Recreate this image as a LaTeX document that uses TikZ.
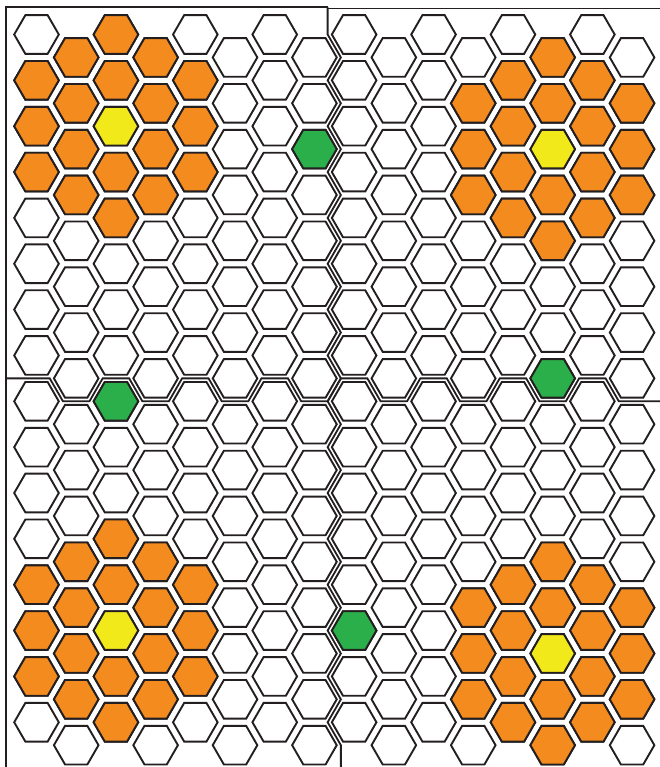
\documentclass[tikz,border=0pt]{standalone}
\definecolor{hexor}{HTML}{F48B1F}
\definecolor{hexye}{HTML}{F2E91B}
\definecolor{hexgr}{HTML}{2BAF4A}
\definecolor{ink}{HTML}{231F20}
\tikzset{
  hexcell/.style={draw=ink,line width=1.9pt,line join=miter},
  seamline/.style={draw=ink,line width=1.8pt,line join=miter}
}
\newcommand\drawhex[3]{%
  \pgfmathsetmacro\hcx{36.5+39.705*#1}%
  \pgfmathsetmacro\hcy{34.5+45.85*#2+22.925*mod(#1,2)}%
  \path[hexcell,fill=#3] (\hcx,\hcy) ++(0:22.3pt) -- ++(120:22.3pt) -- ++(180:22.3pt) -- ++(240:22.3pt) -- ++(300:22.3pt) -- ++(0:22.3pt) -- cycle;}
\begin{document}
\begin{tikzpicture}[x=1pt,y=-1pt]
\useasboundingbox (0,0) rectangle (660,767);
% all cells
\foreach \c in {0,...,15}{\foreach \r in {0,...,15}{\drawhex{\c}{\r}{white}}}
% orange flowers
\foreach \c/\rl in {0/{1,2,3},1/{0,1,2,3},2/{0,1,3,4},3/{0,1,2,3},4/{1,2,3},
  11/{1,2,3},12/{1,2,3,4},13/{0,1,3,4},14/{1,2,3,4},15/{1,2,3},
  0/{12,13,14},1/{11,12,13,14},2/{11,12,14,15},3/{11,12,13,14},4/{12,13,14},
  11/{12,13,14},12/{12,13,14,15},13/{11,12,14,15},14/{12,13,14,15},15/{12,13,14}}
  {\foreach \r in \rl {\drawhex{\c}{\r}{hexor}}}
% yellow centres
\foreach \c/\r in {2/2,13/2,2/13,13/13}{\drawhex{\c}{\r}{hexye}}
% green cells
\foreach \c/\r in {7/2,13/7,2/8,8/13}{\drawhex{\c}{\r}{hexgr}}
% outer borders
\draw[seamline] (5.7,767) -- (5.7,7.4) -- (327.63,7.4);
\draw[seamline] (327.63,8.6) -- (662,8.6);
% vertical seam
\draw[seamline] (327.63,7.4) foreach \j in {0,...,15}{ -- (327.63,{34.5+45.85*\j}) -- (340.87,{57.425+45.85*\j})} -- (340.87,770);
% horizontal seam
\draw[seamline] (5.7,378.375) foreach \c in {1,3,...,13}{ -- ({36.5+39.705*\c-26.47},378.375) -- ({36.5+39.705*\c-13.235},401.3) -- ({36.5+39.705*\c+13.235},401.3) -- ({36.5+39.705*\c+26.47},378.375)} -- ({36.5+39.705*15-26.47},378.375) -- ({36.5+39.705*15-13.235},401.3) -- (662,401.3);
\end{tikzpicture}
\end{document}
